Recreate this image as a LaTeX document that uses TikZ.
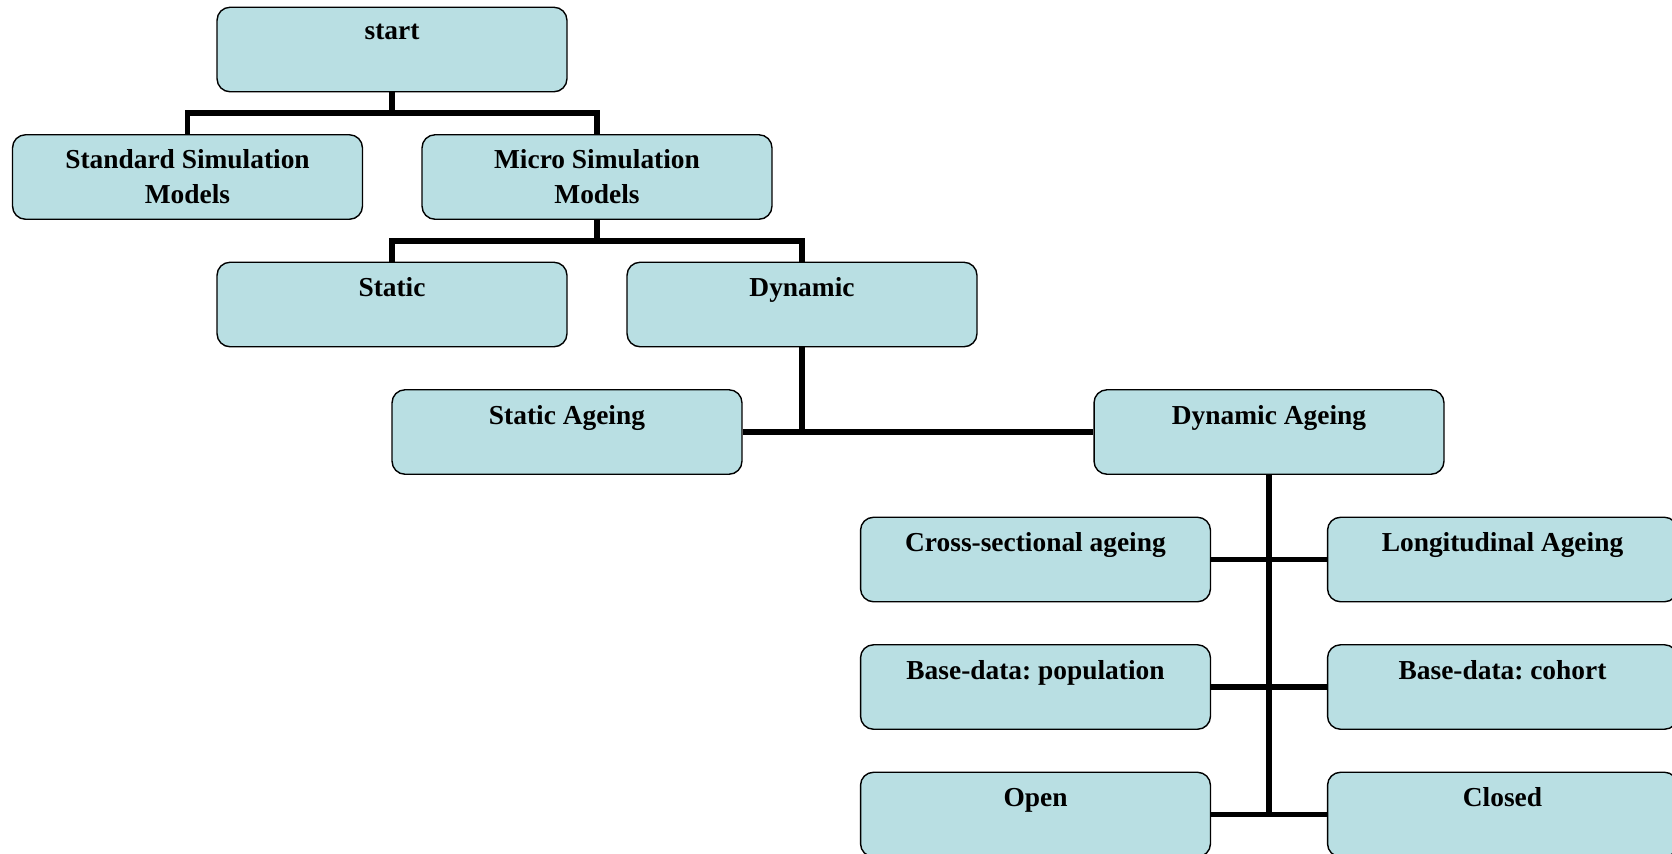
\documentclass[tikz,border=0pt]{standalone}
\usepackage{fontspec}
\setmainfont{Liberation Serif}
\usetikzlibrary{calc}
\definecolor{boxblue}{RGB}{185,223,227}

\begin{document}
\begin{tikzpicture}[x=0.02cm, y=-0.02cm,
  box/.style={draw=black, line width=0.8pt, fill=boxblue, rounded corners=0.26cm,
    minimum width=7cm, minimum height=1.69cm, inner sep=0pt, align=center,
    font=\bfseries\frenchspacing\fontsize{15.6}{19.9}\selectfont},
  link/.style={line width=3.2pt}]
\useasboundingbox (0,0) rectangle (1672,853);
\node [box] (start)   at (392,49.5)   {start\\\mbox{}};
\node [box] (std)     at (187.5,177)  {Standard Simulation\\Models};
\node [box] (micro)   at (597,177)    {Micro Simulation\\Models};
\node [box] (static)  at (392,304.5)  {Static\\\mbox{}};
\node [box] (dynamic) at (802,304.5)  {Dynamic\\\mbox{}};
\node [box] (sage)    at (567,432)    {Static Ageing\\\mbox{}};
\node [box] (dage)    at (1269,432)   {Dynamic Ageing\\\mbox{}};
\foreach \na/\ta/\nb/\tb [count=\i] in {cross/Cross-sectional ageing/longi/Longitudinal Ageing,
    popu/Base-data: population/cohort/Base-data: cohort, open/Open/closed/Closed}
{
  \node [box] (\na) at (1035.5,432+127.5*\i) {\ta\\\mbox{}};
  \node [box] (\nb) at (1502.5,432+127.5*\i) {\tb\\\mbox{}};
  \draw [link] (\na.east) -- (\nb.west);
}
\coordinate (j1) at ($(start.south)!.5!(std.north)$);
\coordinate (j2) at ($(micro.south)!.5!(static.north)$);
\draw [link] (start.south) -- (start.south |- j1);
\draw [link] (std.north) -- (std.north |- j1) -- (micro.north |- j1) -- (micro.north);
\draw [link] (micro.south) -- (micro.south |- j2);
\draw [link] (static.north) -- (static.north |- j2) -- (dynamic.north |- j2) -- (dynamic.north);
\draw [link] (dynamic.south) -- (dynamic.south |- sage.east);
\draw [link] (sage.east) -- (dage.west);
\draw [link] (dage.south) -- (dage.south |- open.east);
\end{tikzpicture}
\end{document}
